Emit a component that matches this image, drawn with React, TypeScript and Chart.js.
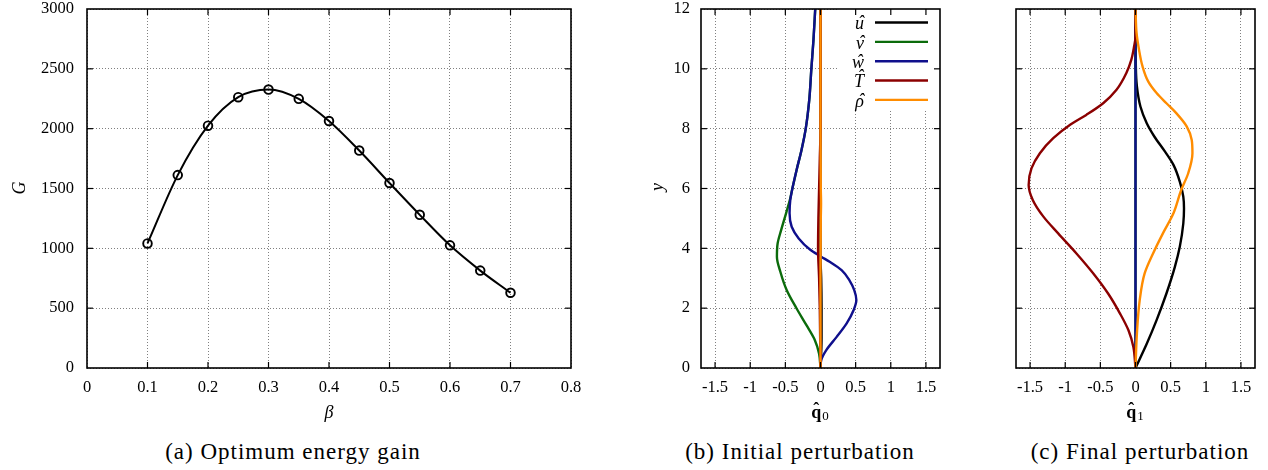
import React, { useEffect, useRef } from 'react';
import { Chart, registerables } from 'chart.js';

Chart.register(...registerables);

// ---------- data: panel (a) optimum energy gain ----------
const betaValues = [0.1, 0.15, 0.2, 0.25, 0.3, 0.35, 0.4, 0.45, 0.5, 0.55, 0.6, 0.65, 0.7];
const gainValues = [1041, 1612, 2025, 2263, 2327, 2249, 2064, 1817, 1546, 1280, 1025, 814, 629];

// ---------- data: panel (b) initial perturbation (value vs y) ----------
const b_u_y = [0, 0.5, 1, 2, 3, 3.7, 5, 8, 12];
const b_u_x = [0, 0.01, 0.015, 0.015, 0.01, 0, 0, 0, 0];
const b_v_y = [0, 0.48, 0.93, 1.43, 1.99, 2.6, 3.21, 3.72, 4.16, 4.61, 5.17, 5.67, 6.0, 6.62, 7.29, 8.0, 8.96, 10.0, 10.97, 12];
const b_v_x = [0, -0.02, -0.08, -0.2, -0.34, -0.48, -0.57, -0.62, -0.61, -0.56, -0.49, -0.43, -0.4, -0.34, -0.27, -0.21, -0.16, -0.13, -0.1, -0.075];
const b_w_y = [0, 0.26, 0.59, 1.04, 1.48, 1.93, 2.27, 2.6, 2.94, 3.27, 3.55, 3.72, 3.96, 4.33, 4.72, 5.17, 5.61, 6.0, 6.62, 7.29, 8.0, 8.96, 10.0, 10.97, 12];
const b_w_x = [0, 0.01, 0.08, 0.23, 0.37, 0.47, 0.51, 0.48, 0.41, 0.3, 0.13, 0.01, -0.15, -0.31, -0.41, -0.44, -0.43, -0.4, -0.34, -0.27, -0.21, -0.16, -0.13, -0.1, -0.075];
const b_T_y = [0, 2, 3, 4, 5, 6, 7, 8, 12];
const b_T_x = [0, -0.01, -0.02, -0.035, -0.03, -0.02, -0.01, 0, 0];
const b_rho_y = [0, 3, 5, 5.5, 6, 8, 12];
const b_rho_x = [0, 0, 0.004, 0.008, 0.004, 0, 0];

// ---------- data: panel (c) final perturbation (value vs y) ----------
const c_u_y = [0, 0.81, 1.6, 2.49, 3.38, 4.05, 4.83, 5.33, 5.73, 6.23, 6.79, 7.23, 7.73, 8.18, 8.74, 9.41, 10.08, 12];
const c_u_x = [0, 0.16, 0.3, 0.44, 0.56, 0.63, 0.68, 0.69, 0.68, 0.63, 0.54, 0.42, 0.27, 0.16, 0.07, 0.02, 0.005, 0];
const c_v_y = [0, 12];
const c_v_x = [0, 0];
const c_w_y = [0, 12];
const c_w_x = [0, 0];
const c_T_y = [0, 0.7, 1.26, 1.82, 2.49, 3.16, 3.83, 4.5, 5.06, 5.61, 6.12, 6.67, 7.18, 7.68, 8.13, 8.46, 8.85, 9.3, 9.86, 10.3, 10.75, 11.08, 12];
const c_T_x = [0, -0.03, -0.1, -0.22, -0.39, -0.6, -0.84, -1.1, -1.31, -1.46, -1.52, -1.48, -1.36, -1.17, -0.93, -0.7, -0.46, -0.27, -0.13, -0.06, -0.02, 0, 0];
const c_rho_y = [0, 1.15, 2.27, 3.16, 3.83, 4.5, 5.17, 5.95, 6.51, 7.18, 7.62, 8.07, 8.52, 8.85, 9.19, 9.58, 10.08, 10.64, 11.2, 12];
const c_rho_x = [0, 0.02, 0.06, 0.13, 0.25, 0.39, 0.54, 0.65, 0.75, 0.81, 0.8, 0.73, 0.58, 0.44, 0.3, 0.18, 0.1, 0.05, 0.015, 0];

// ---------- labels ----------
const legendBases = ['u', 'v', 'w', 'T', '\u03C1']; // each shown with a hat: û v̂ ŵ T̂ ρ̂
const seriesColors = ['#000000', '#0b6b0b', '#0f0f8c', '#8b0000', '#ff8c00'];
const captions = ['(a) Optimum energy gain', '(b) Initial perturbation', '(c) Final perturbation'];

const SERIF = '"Liberation Serif", serif';
const H = 430;
const AREA_TOP = 9;
const AREA_BOTTOM = 368;
const HAT = '\u02C6';

type Title = { text: string; x: number; y: number; rotate?: boolean; style: string; sub?: string; hat?: boolean };

type PanelSpec = {
  id: string;
  left: number;
  width: number;
  areaLeft: number;
  areaRight: number;
  xMin: number;
  xMax: number;
  xStep: number;
  yMin: number;
  yMax: number;
  yStep: number;
  showYLabels: boolean;
  yPad: number;
  vertical: boolean;
  datasets: any[];
  titles: Title[];
  legend: boolean;
};

const fmt = (v: number) => String(Number(Number(v).toFixed(3)));

function series(ys: number[], xs: number[], color: string, order: number) {
  return {
    data: ys.map((y, i) => ({ x: xs[i], y })),
    showLine: true,
    borderColor: color,
    backgroundColor: color,
    borderWidth: 2.4,
    pointRadius: 0,
    cubicInterpolationMode: 'monotone',
    order,
  };
}

// draw base glyph(s) starting at x (left), with a circumflex over the first glyph
function drawHatted(ctx: CanvasRenderingContext2D, base: string, x: number, y: number, font: string, hatDx: number, hatDy: number) {
  ctx.font = font;
  ctx.textAlign = 'left';
  const w = ctx.measureText(base).width;
  ctx.fillText(base, x, y);
  ctx.textAlign = 'center';
  ctx.fillText(HAT, x + w / 2 + hatDx, y + hatDy);
  return w;
}

function framePlugin(spec: PanelSpec) {
  return {
    id: 'frame_' + spec.id,
    afterDraw(chart: any) {
      const { ctx, chartArea: a, scales } = chart;
      ctx.save();
      const line = (x1: number, y1: number, x2: number, y2: number) => {
        ctx.beginPath();
        ctx.moveTo(x1, y1);
        ctx.lineTo(x2, y2);
        ctx.stroke();
      };
      // legend (panel b)
      if (spec.legend) {
        const lx0 = 839 - spec.left;
        ctx.fillStyle = '#ffffff';
        ctx.fillRect(lx0, a.top, a.right - lx0, 110 - a.top);
        ctx.textBaseline = 'middle';
        legendBases.forEach((b, i) => {
          const y = 22.5 + i * 19.35;
          const font = 'italic 18px ' + SERIF;
          ctx.font = font;
          const w = ctx.measureText(b).width;
          ctx.fillStyle = '#000';
          const isCap = b === 'T';
          drawHatted(ctx, b, 864 - spec.left - w, y + 2, font, 1.5, isCap ? -5 : -1);
          ctx.strokeStyle = seriesColors[i];
          ctx.lineWidth = 2.4;
          line(875 - spec.left, y, 928 - spec.left, y);
        });
      }
      // inward tick marks on all sides
      ctx.strokeStyle = '#000';
      ctx.lineWidth = 1.2;
      const tl = 6;
      scales.x.ticks.forEach((t: any) => {
        const px = scales.x.getPixelForValue(t.value);
        if (px < a.left + 2 || px > a.right - 2) return;
        line(px, a.bottom, px, a.bottom - tl);
        line(px, a.top, px, a.top + tl);
      });
      scales.y.ticks.forEach((t: any) => {
        const py = scales.y.getPixelForValue(t.value);
        if (py < a.top + 2 || py > a.bottom - 2) return;
        line(a.left, py, a.left + tl, py);
        line(a.right, py, a.right - tl, py);
      });
      // frame
      ctx.lineWidth = 1.6;
      ctx.strokeRect(a.left, a.top, a.right - a.left, a.bottom - a.top);
      // axis titles
      ctx.fillStyle = '#000';
      ctx.textBaseline = 'middle';
      spec.titles.forEach((t) => {
        ctx.save();
        ctx.translate(t.x - spec.left, t.y);
        if (t.rotate) ctx.rotate(-Math.PI / 2);
        const font = t.style + ' 18px ' + SERIF;
        ctx.font = font;
        if (t.hat) {
          const w1 = ctx.measureText(t.text).width;
          ctx.font = '13px ' + SERIF;
          const w2 = ctx.measureText(t.sub || '').width;
          const total = w1 + w2 + 1;
          drawHatted(ctx, t.text, -total / 2, 0, font, 0, -3);
          ctx.font = '13px ' + SERIF;
          ctx.textAlign = 'left';
          ctx.fillText(t.sub || '', -total / 2 + w1 + 1, 4);
        } else {
          ctx.textAlign = 'center';
          ctx.fillText(t.text, 0, 0);
        }
        ctx.restore();
      });
      ctx.restore();
    },
  };
}

function buildConfig(spec: PanelSpec): any {
  const tickFont = { family: SERIF, size: 16.5 };
  const zeroPad = (s: any) => {
    s.paddingTop = 0;
    s.paddingBottom = 0;
    s.paddingLeft = 0;
    s.paddingRight = 0;
  };
  return {
    type: 'scatter',
    data: { datasets: spec.datasets },
    options: {
      animation: false,
      responsive: false,
      indexAxis: spec.vertical ? 'y' : 'x',
      layout: {
        padding: { left: 0, top: AREA_TOP, right: spec.left + spec.width - spec.areaRight, bottom: 0 },
      },
      plugins: { legend: { display: false }, tooltip: { enabled: false } },
      scales: {
        x: {
          type: 'linear',
          position: 'bottom',
          min: spec.xMin,
          max: spec.xMax,
          ticks: {
            stepSize: spec.xStep,
            includeBounds: false,
            autoSkip: false,
            maxRotation: 0,
            color: '#000',
            font: tickFont,
            padding: 10,
            callback: (v: any) => fmt(v),
          },
          grid: { color: '#808080', lineWidth: 1, drawTicks: false },
          border: { display: false, dash: [1, 2] },
          afterFit: (s: any) => {
            s.height = H - AREA_BOTTOM;
            zeroPad(s);
          },
        },
        y: {
          type: 'linear',
          position: 'left',
          min: spec.yMin,
          max: spec.yMax,
          ticks: {
            stepSize: spec.yStep,
            includeBounds: false,
            autoSkip: false,
            display: spec.showYLabels,
            color: '#000',
            font: tickFont,
            padding: spec.yPad,
            callback: (v: any) => fmt(v),
          },
          grid: { color: '#808080', lineWidth: 1, drawTicks: false },
          border: { display: false, dash: [1, 2] },
          afterFit: (s: any) => {
            s.width = spec.areaLeft - spec.left;
            zeroPad(s);
          },
        },
      },
    },
    plugins: [framePlugin(spec)],
  };
}

const panelA: PanelSpec = {
  id: 'a',
  left: 0,
  width: 620,
  areaLeft: 87,
  areaRight: 571,
  xMin: 0,
  xMax: 0.8,
  xStep: 0.1,
  yMin: 0,
  yMax: 3000,
  yStep: 500,
  showYLabels: true,
  yPad: 13,
  vertical: false,
  datasets: [
    {
      data: betaValues.map((b, i) => ({ x: b, y: gainValues[i] })),
      showLine: true,
      borderColor: '#000',
      backgroundColor: 'rgba(0,0,0,0)',
      borderWidth: 2,
      cubicInterpolationMode: 'monotone',
      pointRadius: 4.3,
      pointBorderWidth: 1.9,
      pointBorderColor: '#000',
      pointBackgroundColor: 'rgba(0,0,0,0)',
    },
  ],
  titles: [
    { text: 'G', x: 20, y: 188, rotate: true, style: 'italic' },
    { text: '\u03B2', x: 329, y: 413, style: 'italic' },
  ],
  legend: false,
};

const panelB: PanelSpec = {
  id: 'b',
  left: 620,
  width: 330,
  areaLeft: 701,
  areaRight: 940,
  xMin: -1.7,
  xMax: 1.7,
  xStep: 0.5,
  yMin: 0,
  yMax: 12,
  yStep: 2,
  showYLabels: true,
  yPad: 11,
  vertical: true,
  datasets: [
    series(b_u_y, b_u_x, seriesColors[0], 5),
    series(b_v_y, b_v_x, seriesColors[1], 4),
    series(b_w_y, b_w_x, seriesColors[2], 3),
    series(b_T_y, b_T_x, seriesColors[3], 2),
    series(b_rho_y, b_rho_x, seriesColors[4], 1),
  ],
  titles: [
    { text: 'y', x: 658, y: 187, rotate: true, style: 'italic' },
    { text: 'q', x: 820, y: 413, style: 'bold', sub: '0', hat: true },
  ],
  legend: true,
};

const panelC: PanelSpec = {
  id: 'c',
  left: 950,
  width: 318,
  areaLeft: 1016,
  areaRight: 1255,
  xMin: -1.7,
  xMax: 1.7,
  xStep: 0.5,
  yMin: 0,
  yMax: 12,
  yStep: 2,
  showYLabels: false,
  yPad: 11,
  vertical: true,
  datasets: [
    series(c_u_y, c_u_x, seriesColors[0], 5),
    series(c_v_y, c_v_x, seriesColors[1], 4),
    series(c_w_y, c_w_x, seriesColors[2], 3),
    series(c_T_y, c_T_x, seriesColors[3], 2),
    series(c_rho_y, c_rho_x, seriesColors[4], 1),
  ],
  titles: [{ text: 'q', x: 1135, y: 413, style: 'bold', sub: '1', hat: true }],
  legend: false,
};

function Panel({ spec }: { spec: PanelSpec }) {
  const ref = useRef<HTMLCanvasElement>(null);
  useEffect(() => {
    const chart = new Chart(ref.current as HTMLCanvasElement, buildConfig(spec));
    return () => chart.destroy();
  }, [spec]);
  return (
    <canvas
      ref={ref}
      width={spec.width}
      height={H}
      style={{ position: 'absolute', left: spec.left, top: 0, width: spec.width, height: H }}
    />
  );
}

const captionCenters = [293, 800, 1140];

export default function App() {
  return (
    <div style={{ position: 'absolute', left: 0, top: 0, width: 1268, height: 470, background: '#fff', overflow: 'hidden' }}>
      <Panel spec={panelA} />
      <Panel spec={panelB} />
      <Panel spec={panelC} />
      {captions.map((c, i) => (
        <div
          key={c}
          style={{
            position: 'absolute',
            left: captionCenters[i] - 200,
            width: 400,
            top: 438,
            textAlign: 'center',
            fontFamily: SERIF,
            fontSize: 23,
            letterSpacing: '1px',
            lineHeight: '28px',
            whiteSpace: 'nowrap',
            color: '#000',
          }}
        >
          {c}
        </div>
      ))}
    </div>
  );
}
